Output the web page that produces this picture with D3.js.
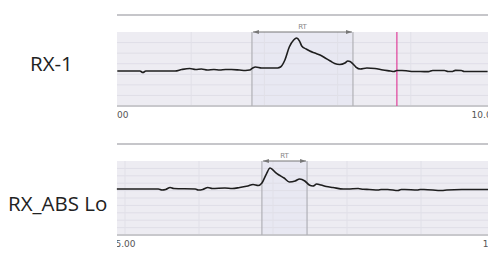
<!DOCTYPE html>
<html><head><meta charset="utf-8">
<script src="https://cdn.jsdelivr.net/npm/d3@7"></script>
<style>
html,body{margin:0;padding:0;background:#fff;}
svg{display:block;}
</style></head>
<body>
<svg id="chart" width="500" height="264"></svg>
<script>
// ---------- DATA ----------
const traceNames = ["RX-1", "RX_ABS Lo"];
const tickValues1 = [5, 10];
const tickValues2 = [5, 10];
// top trace: time (min), intensity (% of panel height)
const time1 = [4.99,5.30,5.34,5.38,5.78,5.87,5.98,6.06,6.14,6.22,6.31,6.39,6.47,6.55,6.66,6.74,6.80,6.84,6.88,6.96,7.07,7.18,7.22,7.28,7.34,7.40,7.44,7.48,7.51,7.57,7.62,7.69,7.76,7.83,7.90,7.96,8.03,8.10,8.14,8.17,8.21,8.25,8.31,8.40,8.51,8.62,8.72,8.77,8.81,8.88,8.96,9.03,9.13,9.24,9.30,9.46,9.51,9.56,9.61,9.69,9.73,10.05];
const int1 = [47.3,47.3,45.3,47.3,47.3,49.3,50.7,49.3,50.0,48.6,49.3,48.6,49.3,49.3,48.6,48.0,48.6,51.4,52.7,51.4,51.4,51.4,52.7,62.2,79.7,89.2,91.9,87.8,81.1,77.0,74.3,71.6,68.9,64.9,60.8,57.4,56.1,58.1,60.8,60.1,56.8,52.7,50.0,51.4,50.7,48.6,47.3,46.6,48.0,48.0,47.3,46.6,46.6,46.4,48.0,48.0,46.6,46.6,48.2,48.0,46.6,46.6];
// bottom trace
const time2 = [4.89,5.45,5.50,5.55,5.61,5.66,5.95,5.99,6.05,6.12,6.18,6.35,6.45,6.55,6.66,6.73,6.80,6.85,6.91,6.96,7.00,7.04,7.08,7.15,7.22,7.30,7.36,7.43,7.49,7.54,7.59,7.65,7.72,7.81,7.95,8.01,8.15,8.22,8.30,8.42,8.46,8.55,8.69,8.73,8.78,8.95,8.99,9.04,9.28,9.35,9.55,9.62,9.905];
const int2 = [62.2,62.2,60.8,61.5,64.2,62.8,62.2,60.8,61.5,64.2,62.8,63.5,62.8,64.2,66.2,68.2,66.9,70.3,82.4,90.5,87.8,83.8,81.1,77.0,71.6,73.0,75.7,73.0,67.6,66.2,68.9,67.6,65.5,64.2,62.2,62.2,62.8,61.8,61.5,60.8,61.5,61.5,60.1,61.5,61.5,60.8,61.5,61.5,60.1,60.8,61.5,61.5,61.5];
const rt1 = [6.83, 8.21];     // RT bracket, top
const rt2 = [6.85, 7.46];     // RT bracket, bottom
const marker1 = 8.81;          // magenta marker, top

// ---------- LAYOUT ----------
const svg = d3.select("#chart");
const X0 = 117, X1 = 488;
const panels = [
  {name: traceNames[0], time: time1, inten: int1, rt: rt1, marker: marker1,
   ticks: tickValues1, domain: [4.986, 10.055], topLine: 15, pTop: 32, pBot: 106, hGrid: 7, vGrid: [6,7,8,9],
   labelX: 30, labelY: 71, labelSize: 20.5, tickY: 118},
  {name: traceNames[1], time: time2, inten: int2, rt: rt2, marker: null,
   ticks: tickValues2, domain: [4.892, 9.905], topLine: 144, pTop: 161, pBot: 235, hGrid: 10, vGrid: [5,6,7,8,9],
   labelX: 8, labelY: 211, labelSize: 20.5, tickY: 247}
];

const defs = svg.append("defs");
defs.append("marker").attr("id","arrR").attr("viewBox","0 0 10 10").attr("refX",10).attr("refY",5)
  .attr("markerWidth",6).attr("markerHeight",6).attr("orient","auto")
  .append("path").attr("d","M0,1.5 L10,5 L0,8.5 Z").attr("fill","#777");
defs.append("marker").attr("id","arrL").attr("viewBox","0 0 10 10").attr("refX",0).attr("refY",5)
  .attr("markerWidth",6).attr("markerHeight",6).attr("orient","auto")
  .append("path").attr("d","M10,1.5 L0,5 L10,8.5 Z").attr("fill","#777");

panels.forEach((p, i) => {
  const x = d3.scaleLinear().domain(p.domain).range([X0, X1]);
  const y = d3.scaleLinear().domain([0, 100]).range([p.pBot, p.pTop]);
  const g = svg.append("g");
  const clipId = "clip" + i;
  defs.append("clipPath").attr("id", clipId).append("rect")
    .attr("x", X0).attr("y", p.topLine - 5).attr("width", X1 - X0).attr("height", p.tickY - p.topLine + 10);

  // top separator line
  g.append("line").attr("x1", X0).attr("x2", X1).attr("y1", p.topLine).attr("y2", p.topLine)
    .attr("stroke", "#c6c6ca").attr("stroke-width", 2);

  // plot background
  g.append("rect").attr("x", X0).attr("y", p.pTop).attr("width", X1 - X0).attr("height", p.pBot - p.pTop)
    .attr("fill", "#edecf2");

  // RT shaded region
  g.append("rect").attr("x", x(p.rt[0])).attr("y", p.pTop).attr("width", x(p.rt[1]) - x(p.rt[0]))
    .attr("height", p.pBot - p.pTop).attr("fill", "#e8e8f2");

  // horizontal grid
  const hVals = d3.range(1, p.hGrid).map(k => k * 100 / p.hGrid);
  g.selectAll(".hg").data(hVals).join("line")
    .attr("x1", X0).attr("x2", X1).attr("y1", d => y(d)).attr("y2", d => y(d))
    .attr("stroke", "#dfdee7").attr("stroke-width", 1);
  // vertical grid
  g.selectAll(".vg").data(p.vGrid).join("line")
    .attr("x1", d => x(d)).attr("x2", d => x(d)).attr("y1", p.pTop).attr("y2", p.pBot)
    .attr("stroke", "#e1e0e8").attr("stroke-width", 1);

  // bottom axis line
  g.append("line").attr("x1", X0).attr("x2", X1).attr("y1", p.pBot).attr("y2", p.pBot)
    .attr("stroke", "#c8c8cc").attr("stroke-width", 2);

  // RT bracket verticals
  g.selectAll(".rtl").data(p.rt).join("line")
    .attr("x1", d => x(d)).attr("x2", d => x(d)).attr("y1", p.pTop).attr("y2", p.pBot)
    .attr("stroke", "#b0b0b6").attr("stroke-width", 1.2);
  // RT arrow
  g.append("line").attr("x1", x(p.rt[0]) + 1).attr("x2", x(p.rt[1]) - 1).attr("y1", p.pTop).attr("y2", p.pTop)
    .attr("stroke", "#777").attr("stroke-width", 1)
    .attr("marker-start", "url(#arrL)").attr("marker-end", "url(#arrR)");
  g.append("text").attr("x", (x(p.rt[0]) + x(p.rt[1])) / 2).attr("y", p.pTop - 3)
    .attr("text-anchor", "middle").attr("font-family", "DejaVu Sans, sans-serif").attr("font-size", 7)
    .attr("fill", "#888").text("RT");

  // marker
  if (p.marker !== null) {
    g.append("line").attr("x1", x(p.marker)).attr("x2", x(p.marker)).attr("y1", p.pTop).attr("y2", p.pBot)
      .attr("stroke", "#e0409a").attr("stroke-width", 1.2);
  }

  // trace
  const pts = p.time.map((t, k) => [t, p.inten[k]]);
  g.append("path").datum(pts)
    .attr("d", d3.line().x(d => x(d[0])).y(d => y(d[1])).curve(d3.curveMonotoneX))
    .attr("fill", "none").attr("stroke", "#1e1e1e").attr("stroke-width", 1.6);

  // x axis tick labels (clipped to plot width)
  const ax = d3.axisBottom(x).tickValues(p.ticks).tickFormat(d3.format(".2f")).tickSize(0);
  const wrap = g.append("g").attr("clip-path", "url(#" + clipId + ")");
  const axg = wrap.append("g").attr("transform", "translate(0," + (p.tickY - 8) + ")").call(ax);
  axg.select(".domain").remove();
  axg.selectAll("text").attr("dy", 0).attr("y", 8)
    .attr("font-family", "DejaVu Sans, sans-serif").attr("font-size", 9).attr("fill", "#555");

  // trace name
  svg.append("text").attr("x", p.labelX).attr("y", p.labelY)
    .attr("font-family", "Open Sans, sans-serif").attr("font-size", p.labelSize).attr("fill", "#222")
    .text(p.name);
});
</script>
</body></html>
